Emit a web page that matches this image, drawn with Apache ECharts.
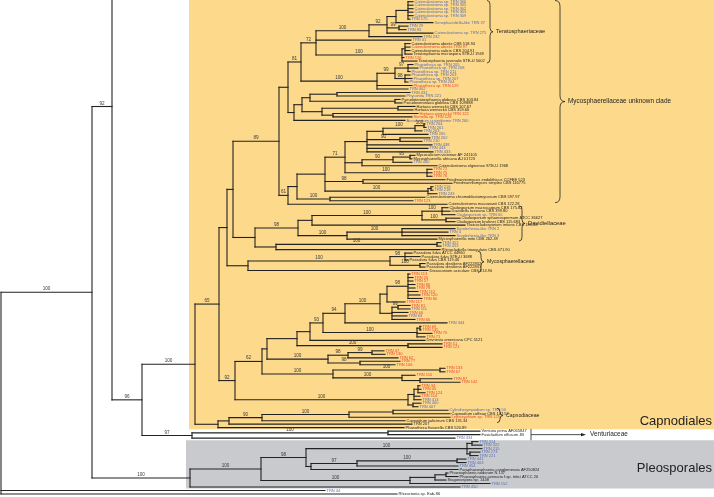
<!DOCTYPE html>
<html><head><meta charset="utf-8">
<script src="https://cdn.jsdelivr.net/npm/echarts@6/dist/echarts.min.js"></script>
<style>html,body{margin:0;padding:0;background:#fff;}#chart{width:714px;height:497px;}</style>
</head><body><div id="chart"></div>
<script>
// ---------------- DATA ----------------
const taxa = [
 'Catenulostroma sp. TRN 306','Catenulostroma sp. TRN 305','Catenulostroma sp. TRN 302','Catenulostroma sp. TRN 303','Catenulostroma sp. TRN 309',
 'TRN 175','Xenophacidiella-like TRN 37','TRN 29','TRN 83','Catenulostroma sp. TRN 275',
 'TRN 232','TRN 41','Catenulostroma abietis CBS 518.94','Catenulostroma abietis TRN 97','Catenulostroma salicis CBS 204.91',
 'Teratosphaeria microspora STE-U 1949','TRN 126','Teratosphaeria juvenalis STE-U 5002','Phaeotheca sp. TRN 205','Phaeotheca sp. TRN 208',
 'Phaeotheca sp. TRN 211','Phaeotheca sp. TRN 203','Phaeotheca sp. TRN 207','Phaeotheca sp. TRN 204','Phaeotheca sp. TRN 129',
 'TRN 402','TRN 431','Phyconita TRN 221','Pseudoteratosphaeria globosa CBS 303.84','Pseudoveronaea globosa CBS 109888',
 'Hortaea werneckii CBS 107.67','Hortaea werneckii CBS 359.66','Hortaea werneckii TRN 122','Stenella sp. TRN 128','Acrodontium crateriforme TRN 260',
 'TRN 264','TRN 261','TRN 263','TRN 265','TRN 262',
 'TRN 210','TRN 438','TRN 443','TRN 433','Mycocalicium victoriae AF 241105',
 'Mycosphaerella africana AJ 01723','TRN 440','Catenulostroma elginense STE-U 1968','TRN 72','TRN 75',
 'TRN 76','Friedmanniomyces endolithicus CCFEE 523','Friedmanniomyces simplex CBS 116775','TRN 216','TRN 218',
 'TRN 243','Catenulostroma chromoblastomycosum CBS 597.97','TRN 123','Catenulostroma macowanii CBS 122.28','Cladosporium macrocarpum CBS 175.82',
 'Davidiella tassiana CBS 399.80','Cladosporium sp. TRN 65','Cladosporium sphaerospermum ATCC 36627','Cladosporium bruhnei CBS 115.683','Toxicocladosporium irritans CBS 185.58',
 'Sonderhenia-like TRN 2','TRN 4','Sonderhenia-like TRN 3','Mycosphaerella mite CBS 262.49','TRN 452',
 'TRN 453','Rhinocladiella triangularis CBS 471.90','Passalora fulva ATCC 44960','Passalora fulva STE-U 3688','Passalora fulva CBS 119.46',
 'Passalora dissiliens AF222832','Passalora dissiliens AF222831','Dissoconium aciculare CBS 214.90','TRN 113','TRN 26',
 'TRN 57','TRN 86','TRN 78','TRN 112','TRN 120',
 'TRN 80','TRN 117','TRN 81','TRN 111','TRN 60',
 'TRN 63','TRN 66','TRN 344','TRN 69','TRN 135',
 'TRN 70','TRN 71','Devriesia americana CPC 5121','TRN 51','TRN 121',
 'TRN 47','TRN 130','TRN 62','TRN 77','TRN 106',
 'TRN 133','TRN 67','TRN 110','TRN 87','TRN 142',
 'TRN 34','TRN 45','TRN 124','TRN 114','TRN 413',
 'TRN 400','TRN 407','Cylindrosympodium sp. TRN 50','Capnodium coffeae CBS 147.52','Leptoxyphium sp. TRN 125',
 'Capnodium salicinum CBS 131.34','TRN 207','Phaeotheca fissurella CBS 520.89','Venturia pirina AF065847','Fusicladium effusum JB',
 'TRN 434','TRN 314','TRN 322','TRN 215','TRN 273',
 'TRN 221','TRN 441','TRN 403','TRN 454','Paraphaeosphaeria conglomerata AF250824',
 'Phaeosphaeria nodorum N 157','Phaeosphaeria avenaria f.sp. tritici ATCC 26','Stagonospora sp. 1448','TRN 152','TRN 450',
 'TRN 44','Rhizoctonia sp. Eab-S6'
];
// b = blue isolate, r = red isolate, k = reference sequence
const taxonGroup = ("bbbbbbbbbb bbkrkkrkbb bbbbrbbbkk kkrrbbbbbb bbbbkkbkrr rkkbbbkrkk kbkkkbbbkb bkkkkkkkrr " +
                    "rrrrrrrrbr brbrrrrkrr rrrrrrrrrr rrrrbbbbkr kkkkkbbbbb bbbbkkkkbb bk").replace(/\s/g,'');
// tree topology, branch lengths and bootstrap supports (leaves = index into taxa; X = clade cropped above the figure)
const newick = `
(
 (
  (
   X:30,
   (
    (
     (
      (
       (
        (
         (
          (
           (((((0:5,1:5,2:5,3:5,4:5,5:2):12,6:37):9,(7:9,8:7)99:12,9:46)92:18,10:53)100:53,11:95,((12:5,13:5,14:5,15:7):3,16:2,17:15)100:86)72:15,
           (((18:5,19:10,20:2)97:13,(21:5,22:7,23:3)98:10)99:18,24:35,25:31)100:76
          )81:13,
          ((((26:73,27:68):27,(28:5,29:7):85):8,((30:17,31:15):76,(32:85,33:79):11):20):8,34:111):6
         ):9,
         (
          (
           (
            (
             ((((35:1,36:2)100:9,37:7)100:32,38:45):16,(39:30,40:22)90:33,41:65,42:61,43:66):22,
             (((44:5,45:2)95:17,46:19)90:31,47:75):17,
             (48:5,49:5,50:5)100:82
            )71:20,
            (51:82,52:89)98:38,
            ((53:2,54:2):3,55:9)100:103
           ):28,
           (56:95,57:83)100:33
          ):9,
          58:159
         )61:9
        )89:46,
        (((((59:6,60:8,61:13)100:20,(62:14,63:9)100:24)100:110,64:153):14,((65:53,66:46,67:53)100:55,68:90)100:49)98:43,((69:4,70:4)100:161,71:164):21):22
       ):6,
       (((72:7,73:15,74:3)98:15,(75:5,76:5)100:30)100:142,77:180):21
      ):8,
      (
       (
        (
         (
          (
           (
            ((((78:2,79:5,80:5,81:7,82:7,83:10,84:12,85:14)98:21,86:18):7,((87:12,88:12)99:6,89:16,90:15,91:23):12)100:35,92:102)94:22,
            ((93:1,94:1):3,95:15,96:8)100:94
           )93:13,
           97:115
          ):13,
          (98:34,99:34)100:111
         ):30,
         (((100:12,101:13)99:24,102:50)98:20,(103:40,104:35)98:32)100:61
        ):5,
        ((105:5,106:5)100:107,(107:13,(108:32,109:40):18)100:69)100:71
       )62:27,
       (((110:2,111:3,112:7):4,113:6,114:7):6,(115:8,116:5):5)100:173
      )92:16
     )65:24,
     (((((117:55,118:57):44,119:101)100:87,120:143)90:33,121:183):11,122:186):23
    )100:53,
    ((123:92,124:92)100:196,125:263)97:50
   )96:30
  )92:20,
  (
   (
    (((126:6,127:10):5,128:15,(129:10,130:8):3)100:161,(((131:9,132:9)100:100,133:101)97:46,134:147):5)98:45,
    (((135:2,136:12):11,137:11):25,138:80)100:149
   )100:71,
   139:270
  )100:98
 )100:91,
 140:324,
 141:396
);`;
const croppedRowsAbove = 54;
const familyNames = ['Teratosphaeriaceae','Mycosphaerellaceae unknown clade','Davidiellaceae','Mycosphaerellaceae','Capnodiaceae'];
const familyFirstLeaf = [0, 0, 59, 72, 117];
const familyLastLeaf = [17, 57, 68, 77, 120];
const orderNames = ['Capnodiales','Pleosporales'];
const orderFirstLeaf = [0, 126];
const orderLastLeaf = [122, 139];
const arrowFamily = {name:'Venturiaceae', first:123, last:125};

// ---------------- STYLE ----------------
const colorOf = {b:'#5a6cb0', r:'#e4462b', k:'#1e1e1e'};
const FONT = '"Liberation Sans", Arial, sans-serif';
const braceStyle = [{x:487,w:6,fs:5.6},{x:555,w:10,fs:6.4},{x:519,w:6,fs:5.8},{x:478,w:6,fs:5.2},{x:497,w:6,fs:5.2}];
const orderStyle = [{x0:189, fill:'#fdd98c', labelLeaf:120.2}, {x0:186, fill:'#c8cacd', labelLeaf:133.6}];

// ---------------- TREE PARSE / LAYOUT ----------------
function parseNewick(str){
  const s = str.replace(/\s+/g,'');
  let i = 0;
  function node(){
    const n = {children:[], name:'', len:0};
    if (s[i] === '('){
      i++;
      n.children.push(node());
      while (s[i] === ','){ i++; n.children.push(node()); }
      i++;
    }
    let lab = '';
    while (i < s.length && ':,);'.indexOf(s[i]) < 0) lab += s[i++];
    n.name = lab;
    if (s[i] === ':'){
      i++; let num = '';
      while (i < s.length && ',);'.indexOf(s[i]) < 0) num += s[i++];
      n.len = parseFloat(num);
    }
    return n;
  }
  return node();
}
const tree = parseNewick(newick);
const branchSegs = [], tipData = [], supportData = [];
function layout(n, parentX, isRoot){
  n.x = parentX + n.len;
  if (n.children.length === 0){
    n.y = n.name === 'X' ? -croppedRowsAbove : Number(n.name);
    if (n.name !== 'X') tipData.push([n.x, n.y, Number(n.name)]);
  } else {
    n.children.forEach(c => layout(c, n.x, false));
    const a = n.children[0].y, b = n.children[n.children.length-1].y;
    n.y = (a + b) / 2;
    branchSegs.push([n.x, a, n.x, b]);
    if (!isRoot && n.name) supportData.push([(parentX + n.x) / 2, n.y, n.name]);
  }
  if (!isRoot) branchSegs.push([parentX, n.y, n.x, n.y]);
}
layout(tree, 0, true);

// ---------------- CHART ----------------
const chart = echarts.init(document.getElementById('chart'), null, {renderer:'canvas'});
function txt(x, y, text, size, fill, align, valign){
  return {type:'text', x:x, y:y, style:{text:text, font:size + 'px ' + FONT, fill:fill,
          textAlign:align, align:align, textVerticalAlign:valign, verticalAlign:valign}};
}
const option = {
  animation:false,
  backgroundColor:'#ffffff',
  grid:{left:0, right:0, top:0, bottom:0},
  xAxis:{type:'value', min:-1, max:713, show:false},
  yAxis:{type:'value', inverse:true, min:-0.487, max:141.86, show:false},
  series:[
    { // order bands
      type:'custom', silent:true, z:1, clip:true,
      data: orderNames.map((n,i)=>[orderFirstLeaf[i], orderLastLeaf[i], i]),
      renderItem:(params, api)=>{
        const i = api.value(2), st = orderStyle[i];
        const top = api.coord([0, api.value(0) - 0.42])[1];
        const bot = api.coord([0, api.value(1) + 0.42])[1];
        const ly = api.coord([0, st.labelLeaf])[1];
        return {type:'group', children:[
          {type:'rect', shape:{x:st.x0, y:(i===0?-2:top), width:714-st.x0, height:bot-(i===0?-2:top)}, style:{fill:st.fill}},
          txt(712, ly, orderNames[i], 13, '#222', 'right', 'middle')
        ]};
      }
    },
    { // branches
      type:'custom', silent:true, z:3, clip:true,
      data: branchSegs,
      encode:{x:[0,2], y:[1,3]},
      renderItem:(params, api)=>{
        const p1 = api.coord([api.value(0), api.value(1)]);
        const p2 = api.coord([api.value(2), api.value(3)]);
        return {type:'line', shape:{x1:p1[0], y1:p1[1], x2:p2[0], y2:p2[1]},
                style:{stroke:'#222', lineWidth:1.1, lineCap:'square'}};
      }
    },
    { // tip labels
      type:'custom', silent:true, z:4, clip:true,
      data: tipData,
      encode:{x:0, y:1},
      renderItem:(params, api)=>{
        const p = api.coord([api.value(0), api.value(1)]);
        const idx = api.value(2);
        return txt(p[0] + 1.5, p[1], taxa[idx], 4, colorOf[taxonGroup[idx]], 'left', 'middle');
      }
    },
    { // bootstrap supports
      type:'custom', silent:true, z:4, clip:true,
      data: supportData,
      encode:{x:0, y:1},
      renderItem:(params, api)=>{
        const p = api.coord([api.value(0), api.value(1)]);
        return txt(p[0], p[1] - 0.7, String(supportData[params.dataIndex][2]), 4.6, '#3a3a3a', 'center', 'bottom');
      }
    },
    { // family braces
      type:'custom', silent:true, z:5, clip:false,
      data: familyNames.map((n,i)=>[familyFirstLeaf[i], familyLastLeaf[i], i]),
      renderItem:(params, api)=>{
        const i = api.value(2), st = braceStyle[i];
        const y1 = Math.max(0.5, api.coord([0, api.value(0) - 0.55])[1]);
        const y2 = api.coord([0, api.value(1) + 0.55])[1];
        const ym = (y1 + y2) / 2, x0 = st.x, w = st.w, xm = x0 + w/2;
        const r = Math.min(w/2 + 1, (y2 - y1) / 4);
        const d = `M${x0} ${y1} Q${xm} ${y1} ${xm} ${y1+r} L${xm} ${ym-r} Q${xm} ${ym} ${x0+w} ${ym} ` +
                  `Q${xm} ${ym} ${xm} ${ym+r} L${xm} ${y2-r} Q${xm} ${y2} ${x0} ${y2}`;
        return {type:'group', children:[
          {type:'path', shape:{pathData:d}, style:{fill:'none', stroke:'#222', lineWidth:0.8}},
          txt(x0 + w + 3, ym, familyNames[i], st.fs, '#1e1e1e', 'left', 'middle')
        ]};
      }
    },
    { // Venturiaceae pointer
      type:'custom', silent:true, z:5, clip:false,
      data: [[arrowFamily.first, arrowFamily.last]],
      renderItem:(params, api)=>{
        const y1 = api.coord([0, api.value(0) - 0.6])[1];
        const y2 = api.coord([0, api.value(1) + 0.6])[1];
        const ym = (y1 + y2) / 2, x0 = 531, x1 = 586;
        return {type:'group', children:[
          {type:'line', shape:{x1:x0, y1:y1, x2:x0, y2:y2}, style:{stroke:'#222', lineWidth:0.8}},
          {type:'line', shape:{x1:x0, y1:ym, x2:x1-3, y2:ym}, style:{stroke:'#222', lineWidth:0.8}},
          {type:'polygon', shape:{points:[[x1,ym],[x1-5,ym-1.6],[x1-5,ym+1.6]]}, style:{fill:'#222'}},
          txt(x1 + 4, ym, arrowFamily.name, 6.5, '#1e1e1e', 'left', 'middle')
        ]};
      }
    }
  ]
};
chart.setOption(option);
</script>
</body></html>
